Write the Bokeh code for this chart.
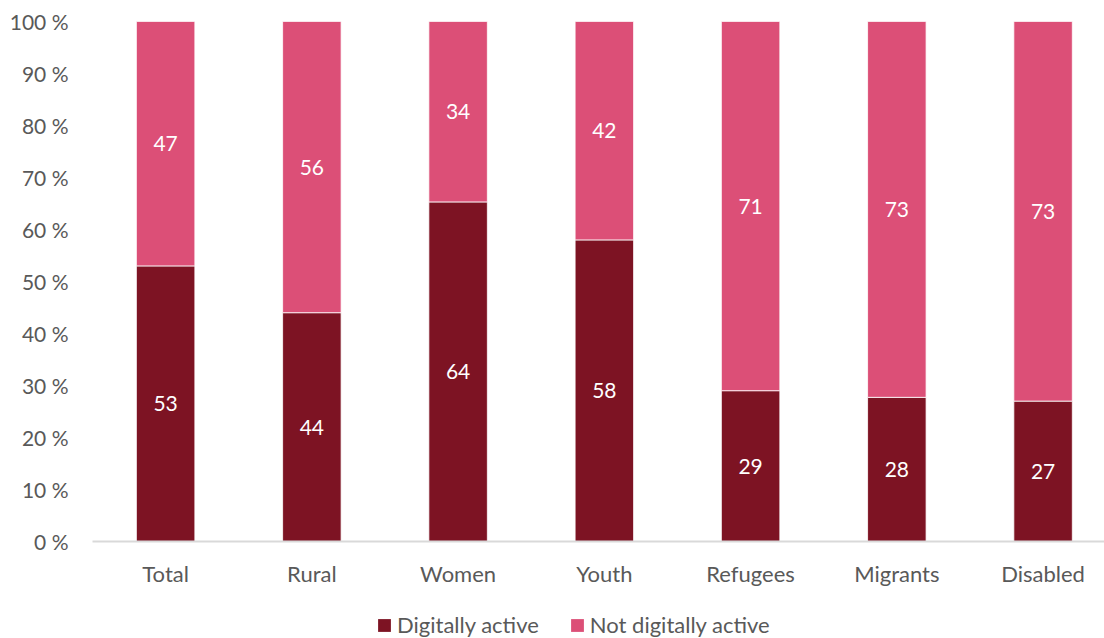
from bokeh.plotting import figure
from bokeh.layouts import column
from bokeh.models import ColumnDataSource, Range1d, FixedTicker, Legend, LegendItem
from bokeh.core.properties import value
from bokeh.embed import file_html
from bokeh.resources import INLINE

categories = ["Total", "Rural", "Women", "Youth", "Refugees", "Migrants", "Disabled"]
digitally_active = [53, 44, 64, 58, 29, 28, 27]
not_digitally_active = [47, 56, 34, 42, 71, 73, 73]
series_names = ["Digitally active", "Not digitally active"]
colors = ["#7D1323", "#DC4F77"]
y_ticks = [i / 10 for i in range(11)]
y_tick_labels = [f"{i * 10} %" for i in range(11)]

FONT = "Lato"
GRAY = "#595959"

xs = list(range(len(categories)))
totals = [a + b for a, b in zip(digitally_active, not_digitally_active)]
a_frac = [a / t for a, t in zip(digitally_active, totals)]
b_frac = [b / t for b, t in zip(not_digitally_active, totals)]
src = ColumnDataSource(dict(
    x=xs,
    a=a_frac,
    b=b_frac,
    a_mid=[f / 2 for f in a_frac],
    b_mid=[fa + fb / 2 for fa, fb in zip(a_frac, b_frac)],
    a_lab=[str(v) for v in digitally_active],
    b_lab=[str(v) for v in not_digitally_active],
))

p = figure(width=1104, height=602, output_backend="svg", toolbar_location=None,
           x_range=Range1d(-0.5, 6.42), y_range=Range1d(0, 1),
           min_border_left=92, min_border_right=0, min_border_top=21,
           min_border_bottom=61, outline_line_color=None)

p.vbar_stack(["a", "b"], x="x", width=0.4, source=src, color=colors,
             line_color="white", line_width=0.8)

p.text(x="x", y="a_mid", text="a_lab", source=src, text_color="white",
       text_font=value(FONT), text_font_size="21px", text_align="center",
       text_baseline="middle")
p.text(x="x", y="b_mid", text="b_lab", source=src, text_color="white",
       text_font=value(FONT), text_font_size="21px", text_align="center",
       text_baseline="middle")

p.xgrid.grid_line_color = None
p.ygrid.grid_line_color = None

xa = p.xaxis[0]
xa.ticker = FixedTicker(ticks=xs)
xa.major_label_overrides = {i: c for i, c in enumerate(categories)}
xa.axis_line_color = "#D9D9D9"
xa.axis_line_width = 2
xa.major_tick_line_color = None
xa.minor_tick_line_color = None
xa.major_label_text_font = FONT
xa.major_label_text_font_size = "22px"
xa.major_label_text_color = GRAY
xa.major_label_standoff = 12

ya = p.yaxis[0]
ya.ticker = FixedTicker(ticks=y_ticks)
ya.major_label_overrides = {t: l for t, l in zip(y_ticks, y_tick_labels)}
ya.axis_line_color = None
ya.major_tick_line_color = None
ya.minor_tick_line_color = None
ya.major_label_text_font = FONT
ya.major_label_text_font_size = "21px"
ya.major_label_text_color = GRAY
ya.major_label_standoff = 18

# Legend strip below the chart (its bars are the same data, kept outside its view)
lg = figure(width=1104, height=36, output_backend="svg", toolbar_location=None,
            x_range=Range1d(-100, -99), y_range=Range1d(0, 1),
            min_border_left=92, min_border_right=0, min_border_top=0,
            min_border_bottom=0, outline_line_color=None)
lg.axis.visible = False
lg.xgrid.grid_line_color = None
lg.ygrid.grid_line_color = None
proxies = lg.vbar_stack(["a", "b"], x="x", width=0.4, source=src, color=colors,
                        line_color=None)
legend = Legend(items=[LegendItem(label=n, renderers=[r]) for n, r in zip(series_names, proxies)],
                orientation="horizontal", location=(284, 0),
                glyph_width=16, glyph_height=16, label_standoff=5, spacing=30,
                padding=0, margin=0, border_line_color=None, background_fill_alpha=0,
                label_text_font=FONT, label_text_font_size="22px",
                label_text_color=GRAY)
lg.add_layout(legend, "center")

layout = column(p, lg, spacing=0)
open("out.html", "w").write(file_html(layout, INLINE))
